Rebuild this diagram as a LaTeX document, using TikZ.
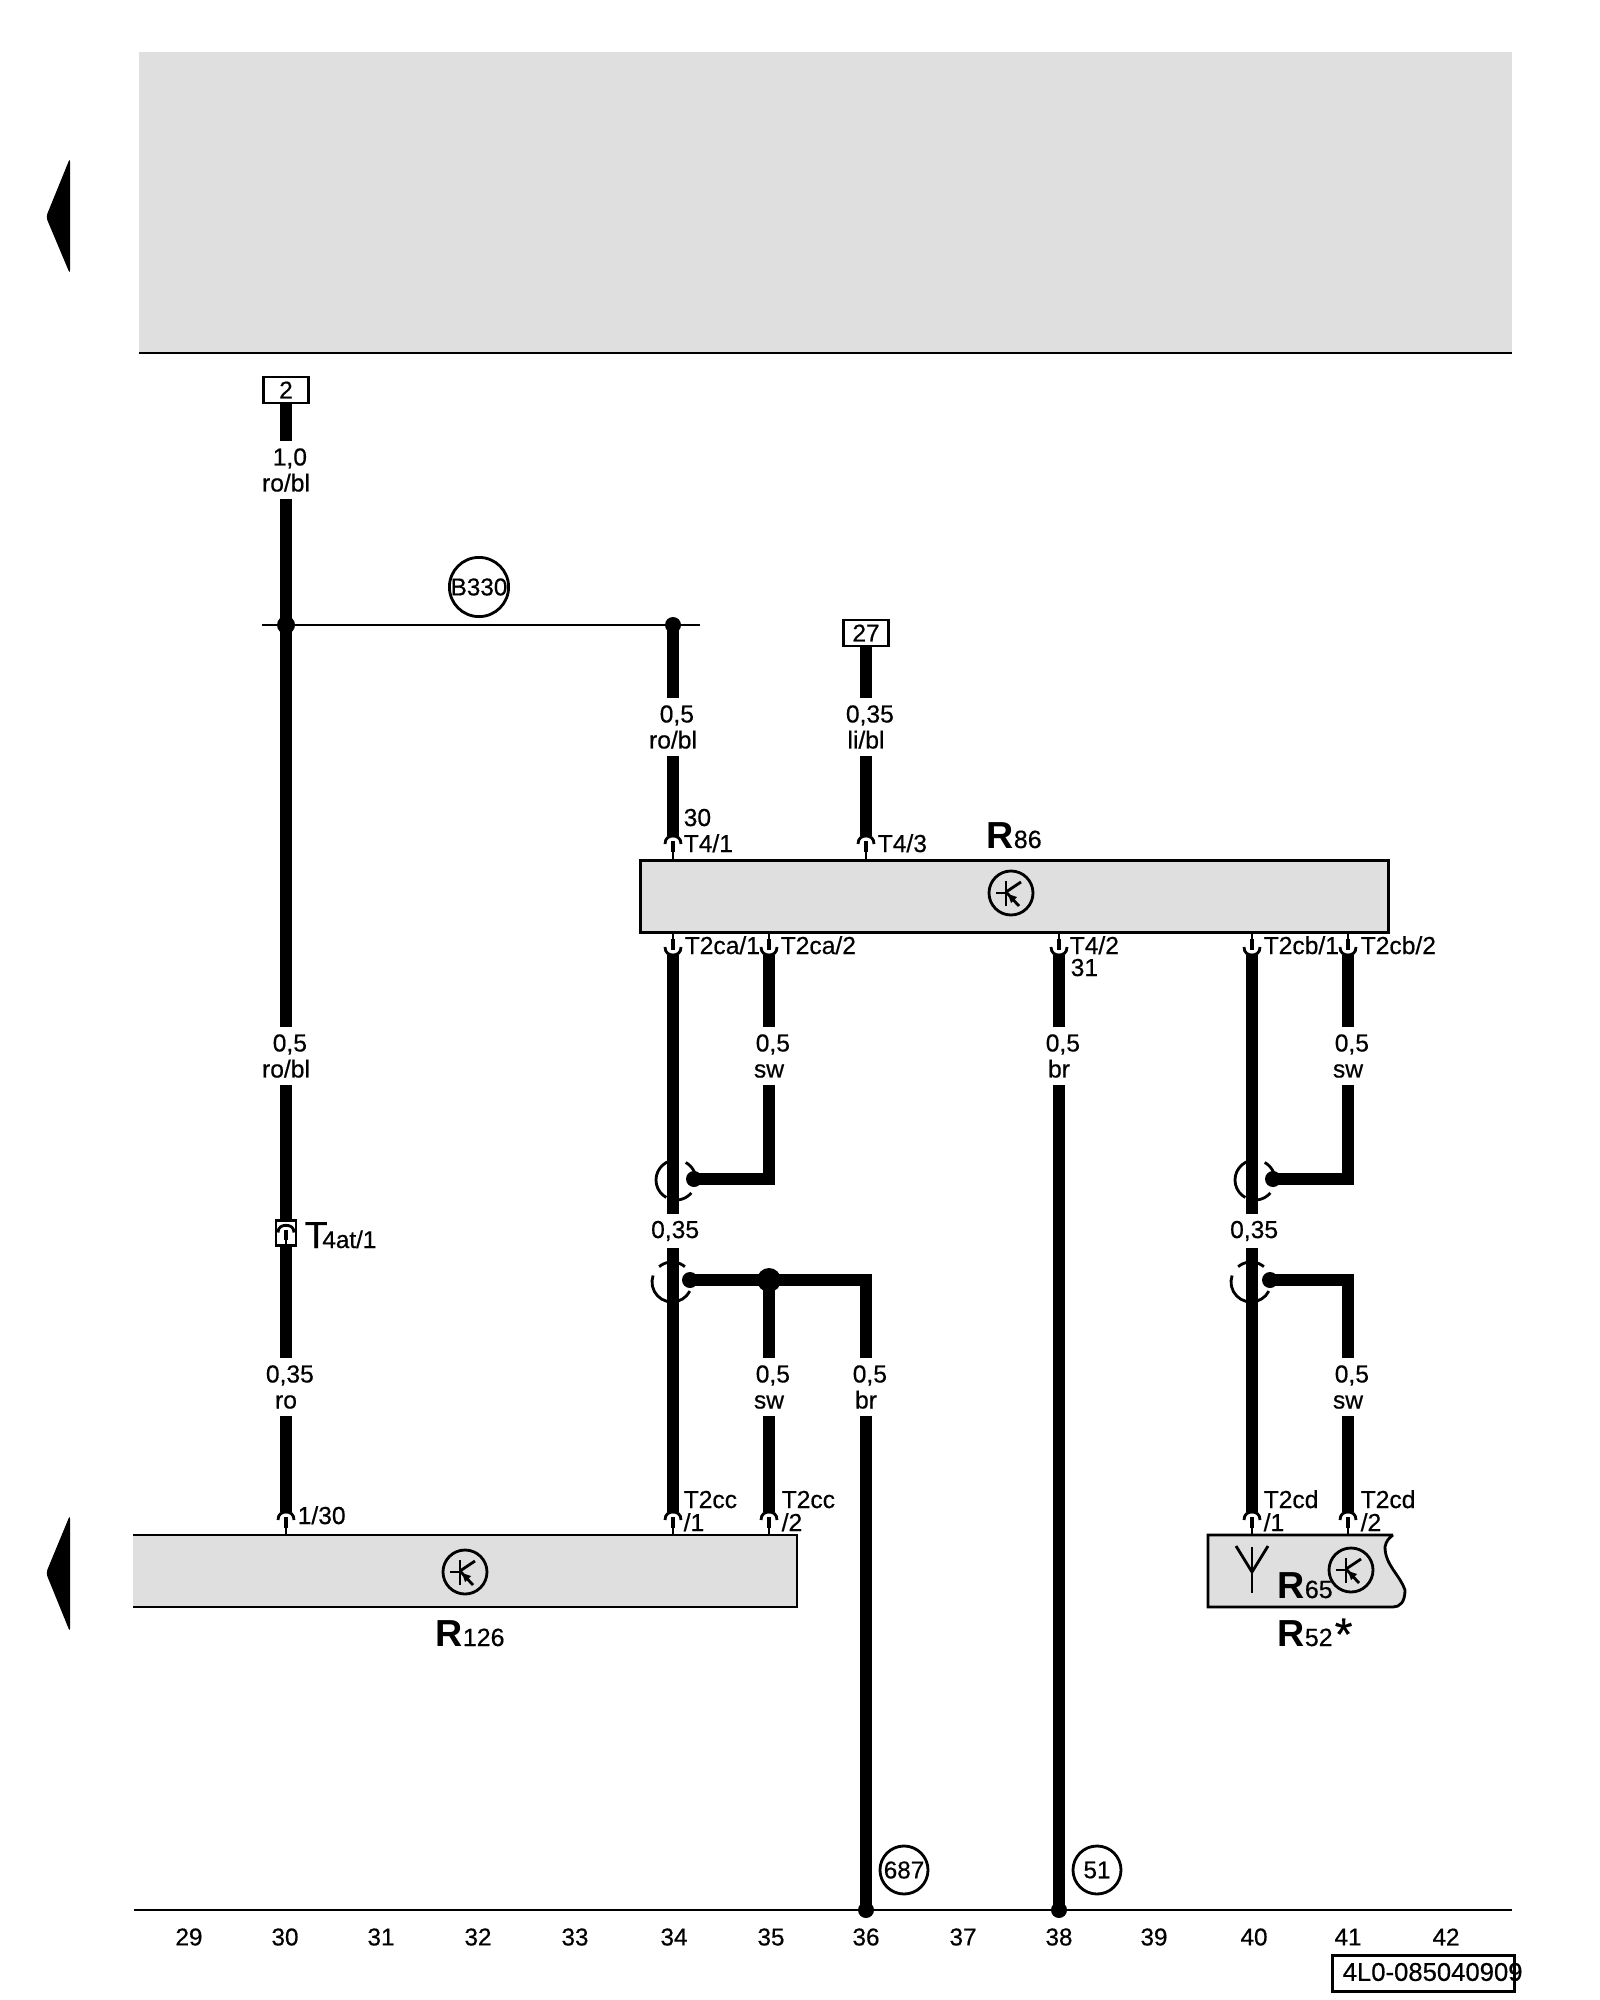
\documentclass[tikz,border=0pt]{standalone}
\usepackage{fontspec}
\setmainfont[UprightFeatures={FakeBold=0.5}]{Liberation Sans}
\definecolor{boxgrey}{HTML}{DFDFDF}
\tikzset{
	thinl/.style = {line width=0.8pt},
	wire/.style = {line width=3.5pt, miter limit=10},
	wlabel/.style = {align=center, inner xsep=1pt, inner ysep=1.8pt, font=\fontsize{7}{7.4}\selectfont},
	pinlabel/.style = {anchor=base west, inner sep=0pt, font=\fontsize{7}{8}\selectfont},
	numlabel/.style = {inner sep=0pt, font=\fontsize{6.9}{8}\selectfont},
	dot/.style = {circle, fill=black, inner sep=0pt, minimum size=0.16cm},
	numbox/.style = {draw, thinl, fill=white, inner sep=0pt, minimum width=0.45cm, minimum height=0.26cm, font=\fontsize{6.9}{8}\selectfont},
	ringnode/.style = {draw, thinl, circle, inner sep=0pt, minimum size=0.48cm, font=\fontsize{6.9}{8}\selectfont},
	compbox/.style = {draw, thinl, fill=boxgrey, anchor=north west, inner sep=0pt, minimum height=0.72cm}
}
\newcommand{\pincell}{\draw[thinl] (0,0) -- (0,-9);
			\draw[line width=1.3pt] (0,-7) -- (0,-18);
			\draw[thinl] (-8,-15) .. controls (-8,-21) and (-4,-23) .. (0,-23) .. controls (4,-23) and (8,-21) .. (8,-15);}
\newcommand{\pinup}[3]{\begin{scope}[shift={(#2,#3)}]
			\pincell
		\end{scope}
		\coordinate (#1) at (#2,#3-23);}
\newcommand{\pindown}[3]{\begin{scope}[shift={(#2,#3)}, yscale=-1]
			\pincell
		\end{scope}
		\coordinate (#1) at (#2,#3+23);}
\newcommand{\transcell}[2]{\begin{scope}[shift={(#1,#2)}]
			\draw[thinl] (0,0) circle (22);
			\draw[thinl] (-15,0) -- (-5,0);
			\draw[thinl] (-5,-12) -- (-5,13);
			\draw[thinl] (-5,-1) -- (10,-11);
			\draw[thinl] (-5,-1) -- (8,13);
			\fill (-3,1) -- (6,4) -- (0,10) -- cycle;
		\end{scope}}
\newcommand{\twarc}[2]{\draw[thinl] plot[domain=#1:#2, samples=12] ({20*cos(\x)},{20*sin(\x)});}
\newcommand{\twistupper}[2]{\begin{scope}[shift={(#1,#2)}]
			\twarc{119}{253}
			\twarc{40}{105}
			\twarc{-61}{-15}
		\end{scope}}
\newcommand{\twistlower}[2]{\begin{scope}[shift={(#1,#2)}]
			\twarc{230}{310}
			\twarc{27}{199}
		\end{scope}}
\newcommand{\wlab}[2]{\hspace*{2.2pt}#1\\#2}
\newcommand{\complab}[2]{{\fontsize{10.7}{12}\selectfont\bfseries #1}{\fontsize{7.1}{8}\selectfont #2}}

\begin{document}
\begin{tikzpicture}[x=0.01cm, y=-0.01cm]
	\useasboundingbox (0,0) rectangle (1600,2000);

	\fill[boxgrey] (139,52) rectangle (1512,353);
	\draw[thinl] (139,353) -- (1512,353);

	\fill[rounded corners=1pt] (46,217) -- (70,158) -- (70,274) -- cycle;
	\fill[rounded corners=1pt] (46,1573) -- (70,1515) -- (70,1632) -- cycle;

	\node[compbox, minimum width=7.48cm] (r86) at (639,859) {};
	\fill[boxgrey] (133,1535) rectangle (797,1607);
	\draw[thinl] (133,1535) -- (797,1535) -- (797,1607) -- (133,1607);
	\draw[thinl, fill=boxgrey] (1393,1535) -- (1208,1535) -- (1208,1607) -- (1393,1607)
		.. controls (1400,1607) and (1405,1602) .. (1405,1590)
		.. controls (1400,1575) and (1385,1565) .. (1385,1547)
		.. controls (1386,1541) and (1389,1538) .. (1393,1535);

	\transcell{1011}{893}
	\transcell{465}{1572}
	\transcell{1351}{1570}

	\draw[thinl] (1252,1547) -- (1252,1593);
	\draw[thinl] (1236,1546) -- (1252,1572) -- (1268,1546);

	\node[pinlabel] (r86t) at (986,848) {\complab{R}{86}};
	\node[pinlabel] (r126t) at (435,1646) {\complab{R}{126}};
	\node[pinlabel] (r65t) at (1277,1598) {\complab{R}{65}};
	\node[pinlabel] (r52t) at (1277,1646) {\complab{R}{52}};
	\node[pinlabel, font=\fontsize{13}{14}\selectfont] (r52s) at (1334,1650) {*};
	\node[pinlabel] (t4att) at (304,1248) {{\fontsize{10.7}{12}\selectfont T}\hspace{-1.5pt}{\fontsize{6.9}{8}\selectfont 4at/1}};

	\pinup{p1}{286}{1535}
	\pinup{p2}{673}{859}
	\pinup{p3}{866}{859}
	\pinup{p4}{673}{1535}
	\pinup{p5}{769}{1535}
	\pinup{p6}{1252}{1535}
	\pinup{p7}{1348}{1535}
	\pindown{q1}{673}{932}
	\pindown{q2}{769}{932}
	\pindown{q3}{1059}{932}
	\pindown{q4}{1252}{932}
	\pindown{q5}{1348}{932}

	\node[numbox] (box2) at (286,390) {2};
	\node[numbox] (box27) at (866,633) {27};

	\node[wlabel] (wl1) at (286,470) {\wlab{1,0}{ro/bl}};
	\node[wlabel] (wl2) at (286,1056) {\wlab{0,5}{ro/bl}};
	\node[wlabel] (wl3) at (286,1387) {\wlab{0,35}{ro}};
	\node[wlabel] (wl4) at (673,727) {\wlab{0,5}{ro/bl}};
	\node[wlabel] (wl5) at (866,727) {\wlab{0,35}{li/bl}};
	\node[wlabel] (wl6) at (673,1231) {\hspace*{1.2pt}0,35};
	\node[wlabel] (wl7) at (769,1056) {\wlab{0,5}{sw}};
	\node[wlabel] (wl8) at (769,1387) {\wlab{0,5}{sw}};
	\node[wlabel] (wl9) at (866,1387) {\wlab{0,5}{br}};
	\node[wlabel] (wl10) at (1059,1056) {\wlab{0,5}{br}};
	\node[wlabel] (wl11) at (1252,1231) {\hspace*{1.2pt}0,35};
	\node[wlabel] (wl12) at (1348,1056) {\wlab{0,5}{sw}};
	\node[wlabel] (wl13) at (1348,1387) {\wlab{0,5}{sw}};

	\node[draw, thinl, fill=white, inner sep=0pt, minimum width=0.2cm, minimum height=0.25cm] (t4at) at (286,1233) {};

	\node[dot, minimum size=0.18cm] (ja) at (286,625) {};
	\node[dot] (jb) at (673,625) {};
	\node[dot] (da) at (694,1179) {};
	\node[dot] (db) at (690,1280) {};
	\node[dot, minimum size=0.24cm] (jc) at (769,1280) {};
	\node[dot] (dc) at (1273,1179) {};
	\node[dot] (dd) at (1270,1280) {};
	\node[dot] (g36) at (866,1910) {};
	\node[dot] (g38) at (1059,1910) {};

	\coordinate (ca) at (769,1179);
	\coordinate (cb) at (866,1280);
	\coordinate (cc) at (1348,1179);
	\coordinate (cd) at (1348,1280);
	\coordinate (ll) at (262,625);
	\coordinate (lr) at (700,625);
	\coordinate (bl) at (134,1910);
	\coordinate (br) at (1512,1910);

	\draw[thinl] (ll) -- (ja.center) -- (jb.center) -- (lr);
	\draw[thinl] (bl) -- (g36.center) -- (g38.center) -- (br);

	\draw[wire] (box2) -- (wl1) -- (wl2) -- (t4at) -- (wl3) -- (p1);
	\draw[wire] (jb.center) -- (wl4) -- (p2);
	\draw[wire] (box27) -- (wl5) -- (p3);
	\draw[wire] (q1) -- (wl6) -- (p4);
	\draw[wire] (q2) -- (wl7) -- (ca) -- (da.center);
	\draw[wire] (db.center) -- (cb) -- (wl9) -- (g36.center);
	\draw[wire] (jc.center) -- (wl8) -- (p5);
	\draw[wire] (q3) -- (wl10) -- (g38.center);
	\draw[wire] (q4) -- (wl11) -- (p6);
	\draw[wire] (q5) -- (wl12) -- (cc) -- (dc.center);
	\draw[wire] (dd.center) -- (cd) -- (wl13) -- (p7);

	\twistupper{676}{1180}
	\twistlower{672}{1282}
	\twistupper{1255}{1180}
	\twistlower{1251}{1282}

	\begin{scope}[shift={(286,1246)}, yscale=0.9]
		\pincell
	\end{scope}

	\node[ringnode] (b330) at (479,587) {B330};
	\node[ringnode] (c687) at (904,1870) {687};
	\node[ringnode] (c51) at (1097,1870) {51};

	\node[pinlabel] (l30) at (683,826) {30};
	\node[pinlabel] (l41) at (683,852) {T4/1};
	\node[pinlabel] (l43) at (877,852) {T4/3};
	\node[pinlabel] (lca1) at (684,954) {T2ca/1};
	\node[pinlabel] (lca2) at (780,954) {T2ca/2};
	\node[pinlabel] (l42) at (1069,954) {T4/2};
	\node[pinlabel] (l31) at (1070,976) {31};
	\node[pinlabel] (lcb1) at (1263,954) {T2cb/1};
	\node[pinlabel] (lcb2) at (1360,954) {T2cb/2};
	\node[pinlabel] (l130) at (297,1524) {1/30};
	\node[pinlabel] (lcc1) at (683,1508) {T2cc};
	\node[pinlabel] (lcc1b) at (683,1531) {/1};
	\node[pinlabel] (lcc2) at (781,1508) {T2cc};
	\node[pinlabel] (lcc2b) at (781,1531) {/2};
	\node[pinlabel] (lcd1) at (1263,1508) {T2cd};
	\node[pinlabel] (lcd1b) at (1263,1531) {/1};
	\node[pinlabel] (lcd2) at (1360,1508) {T2cd};
	\node[pinlabel] (lcd2b) at (1360,1531) {/2};

	\node[numlabel] (n29) at (189,1937) {29};
	\node[numlabel] (n30) at (285,1937) {30};
	\node[numlabel] (n31) at (381,1937) {31};
	\node[numlabel] (n32) at (478,1937) {32};
	\node[numlabel] (n33) at (575,1937) {33};
	\node[numlabel] (n34) at (674,1937) {34};
	\node[numlabel] (n35) at (771,1937) {35};
	\node[numlabel] (n36) at (866,1937) {36};
	\node[numlabel] (n37) at (963,1937) {37};
	\node[numlabel] (n38) at (1059,1937) {38};
	\node[numlabel] (n39) at (1154,1937) {39};
	\node[numlabel] (n40) at (1254,1937) {40};
	\node[numlabel] (n41) at (1348,1937) {41};
	\node[numlabel] (n42) at (1446,1937) {42};

	\node[draw, thinl, inner sep=0pt, anchor=north west, minimum width=1.82cm, minimum height=0.36cm] (codebox) at (1331,1954) {};
	\node[numlabel, anchor=west, font=\fontsize{7.3}{8}\selectfont] (codetext) at (1342,1972) {4L0-085040909};
\end{tikzpicture}
\end{document}
